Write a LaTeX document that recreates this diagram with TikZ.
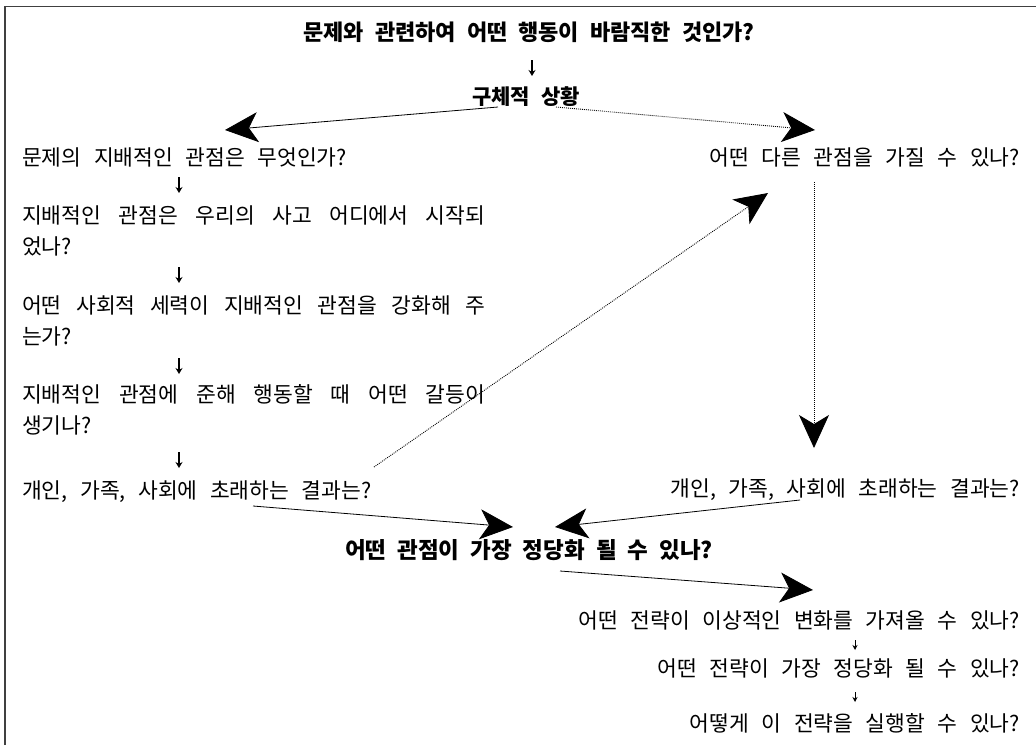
\documentclass[tikz,border=0pt]{standalone}
\usepackage{fontspec}
\newfontfamily\kr{Noto Sans CJK KR}
\usetikzlibrary{arrows.meta,positioning}
\newcommand\bodyfont{\kr\fontsize{21.5}{31}\selectfont\spaceskip=12.5pt plus 10pt minus 3pt\relax}
\newcommand\headfont{\kr\bfseries\fontsize{22}{24}\selectfont\spaceskip=11pt plus 4pt\relax}
\newcommand\subfont{\kr\bfseries\fontsize{21}{24}\selectfont\spaceskip=11pt\relax}
\newcommand\mainfont{\kr\bfseries\fontsize{22.5}{26}\selectfont\spaceskip=11pt\relax}

\tikzset{
  txt/.style={inner sep=0pt, font=\bodyfont},
  hd/.style={inner sep=0pt, font=\headfont},
  para/.style={txt, text width=463pt, align=justify},
  big/.style={-{Stealth[length=33pt,width=30pt,inset=9pt]}, line width=0.8pt},
  dots/.style={big, line width=0.9pt, dash pattern=on 0.9pt off 1.1pt},
  dn/.style={-{Stealth[length=6pt,width=7pt]}, line width=1.1pt},
  sdn/.style={-{Stealth[length=5pt,width=5pt]}, line width=0.9pt},
  frame/.style={line width=1.3pt, black!75}
}

\begin{document}
\begin{tikzpicture}[x=1pt,y=-1pt]
\useasboundingbox (0,0) rectangle (1036,745);
\draw[frame] (5,745) -- (5,6.5) -- (1036,6.5);

\def\xl{22}
\def\xr{1020}
\def\xm{529}

\node[hd](q) at (\xm,32) {문제와 관련하여 어떤 행동이 바람직한 것인가?};
\node[hd,font=\subfont](s) at (526,97) {구체적 상황};
\draw[dn] ([shift={(3,28)}]q.center) -- ([shift={(6,-21)}]s.center);

% left column
\node[txt,anchor=west](a1) at (\xl,157) {문제의 지배적인 관점은 무엇인가?};
\node[para,anchor=west](a2) at (\xl,231) {지배적인 관점은 우리의 사고 어디에서 시작되\linebreak 었나?};
\node[para,anchor=west](a3) at (\xl,321) {어떤 사회적 세력이 지배적인 관점을 강화해 주\linebreak 는가?};
\node[para,anchor=west](a4) at (\xl,410) {지배적인 관점에 준해 행동할 때 어떤 갈등이\linebreak 생기나?};
\node[txt,anchor=west](a5) at (\xl,492) {개인, 가족, 사회에 초래하는 결과는?};
\draw[dn] ([shift={(157,20)}]a1.west) -- ([shift={(157,-38)}]a2.west);
\draw[dn] ([shift={(157,36)}]a2.west) -- ([shift={(157,-38)}]a3.west);
\draw[dn] ([shift={(157,37)}]a3.west) -- ([shift={(157,-36)}]a4.west);
\draw[dn] ([shift={(157,42)}]a4.west) -- ([shift={(157,-24)}]a5.west);

% right column
\node[txt,anchor=east](b1) at (\xr,157) {어떤 다른 관점을 가질 수 있나?};
\node[txt,anchor=east](b2) at (\xr,490) {개인, 가족, 사회에 초래하는 결과는?};

\node[hd,font=\mainfont](c) at (\xm,550) {어떤 관점이 가장 정당화 될 수 있나?};

\node[txt,anchor=east](d1) at (\xr,620) {어떤 전략이 이상적인 변화를 가져올 수 있나?};
\node[txt,anchor=east](d2) at (\xr,668) {어떤 전략이 가장 정당화 될 수 있나?};
\node[txt,anchor=east](d3) at (\xr,723) {어떻게 이 전략을 실행할 수 있나?};
\draw[sdn] ([shift={(-165,20)}]d1.east) -- ([shift={(-165,-18)}]d2.east);
\draw[sdn] ([shift={(-165,24)}]d2.east) -- ([shift={(-165,-21)}]d3.east);

% big arrows
\draw[big] ([shift={(-28,10)}]s.center) -- ([shift={(203,-27)}]a1.west);
\draw[dots] ([shift={(30,10)}]s.center) -- ([shift={(-205,-27)}]b1.east);
\draw[dots] ([shift={(352,-25)}]a5.west) -- ([shift={(-252,36)}]b1.east);
\draw[dots] ([shift={(-206,25)}]b1.east) -- ([shift={(-206,-42)}]b2.east);
\draw[big] ([shift={(231,14)}]a5.west) -- ([shift={(-16,-23)}]c.center);
\draw[big] ([shift={(-220,10)}]b2.east) -- ([shift={(26,-23)}]c.center);
\draw[big] ([shift={(31,21)}]c.center) -- ([shift={(-207,-30)}]d1.east);
\end{tikzpicture}
\end{document}
